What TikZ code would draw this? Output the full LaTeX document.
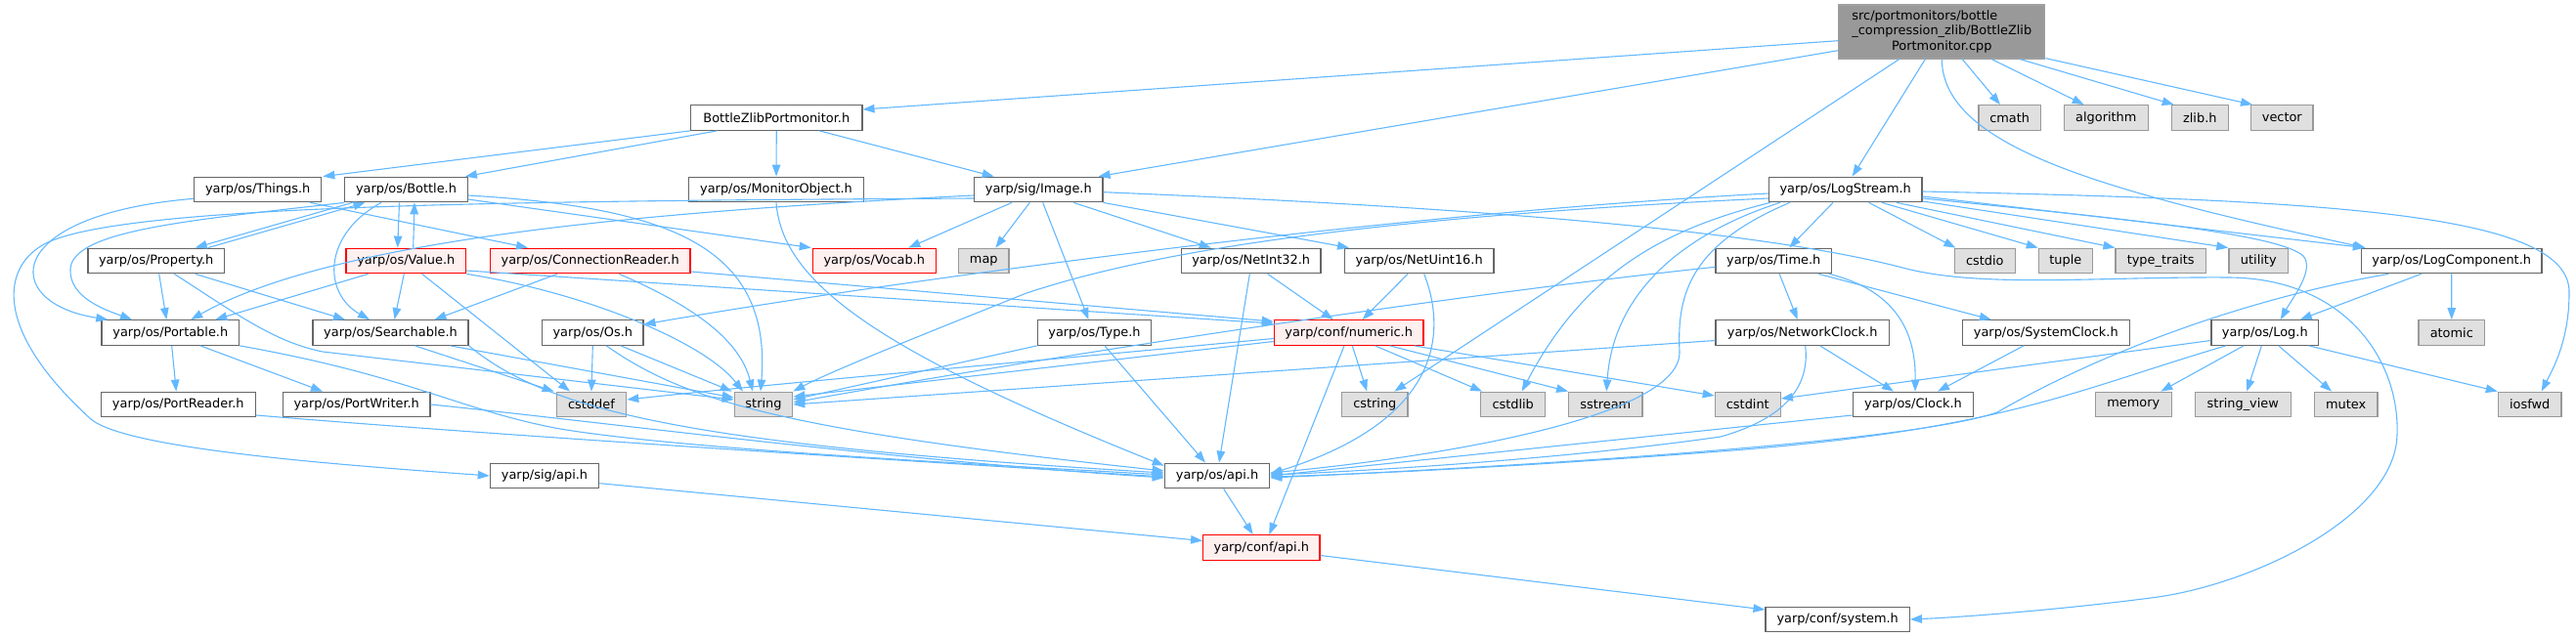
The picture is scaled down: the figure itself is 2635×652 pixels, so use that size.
\documentclass[tikz,border=0pt]{standalone}
\usepackage{fontspec}
\setmainfont{DejaVu Sans}
\usetikzlibrary{arrows.meta}
\definecolor{cgray}{HTML}{666666}
\definecolor{cext}{HTML}{999999}
\definecolor{cextfill}{HTML}{E0E0E0}
\definecolor{cred}{HTML}{FF0000}
\definecolor{credfill}{HTML}{FFF0F0}
\definecolor{croot}{HTML}{A0A0A0}
\definecolor{crootfill}{HTML}{999999}
\definecolor{cedge}{HTML}{63B8FF}
\tikzset{
 nd/.style={draw=cgray, fill=white, line width=1.2pt, minimum height=25.6pt, inner sep=0pt, font=\fontsize{12.9}{15.5}\selectfont, text=black},
 ext/.style={nd, draw=cext, fill=cextfill},
 redn/.style={nd, draw=cred, fill=credfill},
 rootn/.style={nd, draw=croot, fill=crootfill, minimum height=55pt},
 edge/.style={draw=cedge, line width=1.1pt, -{Triangle[length=12pt,width=8.5pt]}},
}
\begin{document}
\begin{tikzpicture}[x=1pt,y=-1pt]
\useasboundingbox (0,0) rectangle (2635,652);
% row 0
\node[rootn, minimum width=211pt] (root) at (1986.3,32.5) {\begin{tabular}{@{}l@{}}src/portmonitors/bottle\\\_compression\_zlib/BottleZlib\\\multicolumn{1}{@{}c@{}}{Portmonitor.cpp}\end{tabular}};
% row 1
\node[nd, minimum width=175.3pt] (bzp) at (794.3,120.5) {BottleZlibPortmonitor.h};
\node[ext, minimum width=63.3pt] (cmath) at (2055.7,120.5) {cmath};
\node[ext, minimum width=86pt] (algorithm) at (2154.3,120.5) {algorithm};
\node[ext, minimum width=58pt] (zlib) at (2250.3,120.5) {zlib.h};
\node[ext, minimum width=63.3pt] (vector) at (2334.3,120.5) {vector};
% row 2
\node[nd, minimum width=130pt] (things) at (263.7,194) {yarp/os/Things.h};
\node[nd, minimum width=125.6pt] (bottle) at (415.5,194) {yarp/os/Bottle.h};
\node[nd, minimum width=178.6pt] (monitor) at (794,194) {yarp/os/MonitorObject.h};
\node[nd, minimum width=131.3pt] (image) at (1062.3,194) {yarp/sig/Image.h};
\node[nd, minimum width=156.7pt] (logstream) at (1887.7,194) {yarp/os/LogStream.h};
% row 3
\node[nd, minimum width=139.3pt] (property) at (159.7,267) {yarp/os/Property.h};
\node[redn, minimum width=122.7pt] (value) at (415.3,267) {yarp/os/Value.h};
\node[redn, minimum width=204.7pt] (connreader) at (603.7,267) {yarp/os/ConnectionReader.h};
\node[redn, minimum width=126pt] (vocab) at (894.3,267) {yarp/os/Vocab.h};
\node[ext, minimum width=51.3pt] (map) at (1006.3,267) {map};
\node[nd, minimum width=142.7pt] (netint32) at (1279.7,267) {yarp/os/NetInt32.h};
\node[nd, minimum width=152.7pt] (netuint16) at (1451.7,267) {yarp/os/NetUint16.h};
\node[nd, minimum width=118.3pt] (time) at (1814.2,267) {yarp/os/Time.h};
\node[ext, minimum width=62pt] (cstdio) at (2030.3,267) {cstdio};
\node[ext, minimum width=55pt] (tuple) at (2112.8,267) {tuple};
\node[ext, minimum width=92.3pt] (typetraits) at (2210.2,267) {type\_traits};
\node[ext, minimum width=60.7pt] (utility) at (2310.3,267) {utility};
\node[nd, minimum width=184.7pt] (logcomp) at (2507.7,267) {yarp/os/LogComponent.h};
% row 4
\node[nd, minimum width=140.7pt] (portable) at (174.3,340.5) {yarp/os/Portable.h};
\node[nd, minimum width=159pt] (searchable) at (399.5,340.5) {yarp/os/Searchable.h};
\node[nd, minimum width=103.3pt] (os) at (606.3,340.5) {yarp/os/Os.h};
\node[nd, minimum width=116.4pt] (type) at (1119.5,340.5) {yarp/os/Type.h};
\node[redn, minimum width=152.7pt] (numeric) at (1379.7,340.5) {yarp/conf/numeric.h};
\node[nd, minimum width=177.3pt] (netclock) at (1843.7,340.5) {yarp/os/NetworkClock.h};
\node[nd, minimum width=171pt] (sysclock) at (2092.8,340.5) {yarp/os/SystemClock.h};
\node[nd, minimum width=109.7pt] (log) at (2316.8,340.5) {yarp/os/Log.h};
\node[ext, minimum width=67.7pt] (atomic) at (2507.8,340.5) {atomic};
% row 5
\node[nd, minimum width=158pt] (portreader) at (182.3,414) {yarp/os/PortReader.h};
\node[nd, minimum width=150.7pt] (portwriter) at (364.7,414) {yarp/os/PortWriter.h};
\node[ext, minimum width=71.4pt] (cstddef) at (605,414) {cstddef};
\node[ext, minimum width=59.4pt] (string) at (781,414) {string};
\node[ext, minimum width=67.3pt] (cstring) at (1406.3,414) {cstring};
\node[ext, minimum width=66pt] (cstdlib) at (1547.7,414) {cstdlib};
\node[ext, minimum width=75.3pt] (sstream) at (1642.3,414) {sstream};
\node[ext, minimum width=67pt] (cstdint) at (1787.8,414) {cstdint};
\node[nd, minimum width=123.4pt] (clock) at (1957,414) {yarp/os/Clock.h};
\node[ext, minimum width=78pt] (memory) at (2182.3,414) {memory};
\node[ext, minimum width=98pt] (stringview) at (2294.3,414) {string\_view};
\node[ext, minimum width=64.7pt] (mutex) at (2399.7,414) {mutex};
\node[ext, minimum width=64.7pt] (iosfwd) at (2587.7,414) {iosfwd};
% row 6-8
\node[nd, minimum width=111.4pt] (sigapi) at (557,487) {yarp/sig/api.h};
\node[nd, minimum width=107.4pt] (osapi) at (1245,487) {yarp/os/api.h};
\node[redn, minimum width=119.3pt] (confapi) at (1290.3,560.5) {yarp/conf/api.h};
\node[nd, minimum width=147.3pt] (system) at (1879.7,634) {yarp/conf/system.h};

% ---- edges: root
\draw[edge] ([yshift=-9.2pt]root.west) -- ([yshift=8.5pt]bzp.east);
\draw[edge] ([yshift=-19.2pt]root.west) -- ([xshift=-5pt]image.north east);
\draw[edge] ([xshift=-17pt]root.south) -- ([xshift=7pt]logstream.north);
\draw[edge] ([xshift=21pt]root.south) -- ([xshift=-9.7pt]cmath.north);
\draw[edge] ([xshift=51pt]root.south) -- ([xshift=-22.6pt]algorithm.north);
\draw[edge] ([xshift=80pt]root.south) -- ([xshift=3pt]zlib.north west);
\draw[edge] ([yshift=1pt]root.south east) -- ([xshift=2pt]vector.north west);
\draw[edge] ([xshift=-43.6pt]root.south) -- ([xshift=20pt]cstring.north);
\draw[edge] (root.south) .. controls (1987,150) and (2150,195) .. ([xshift=5pt]logcomp.north west);
% bzp
\draw[edge] (bzp.south west) -- ([xshift=1pt]things.north east);
\draw[edge] ([xshift=-61pt]bzp.south) -- ([xshift=-3pt]bottle.north east);
\draw[edge] (bzp) -- (monitor);
\draw[edge] ([xshift=44pt]bzp.south) -- ([xshift=-45.6pt]image.north);
% things
\draw[edge] ([yshift=-9.3pt]things.west) .. controls (0,220) and (0,310) .. ([xshift=-64pt]portable.north);
\draw[edge] ([xshift=-12pt]things.south east) -- ([xshift=-63.7pt]connreader.north);
% bottle
\draw[edge] ([xshift=-55pt]bottle.south) -- ([xshift=40pt]property.north);
\draw[edge] ([xshift=53pt]property.north) -- ([xshift=-42pt]bottle.south);
\draw[edge] ([xshift=-7pt]bottle.south) -- ([xshift=-8.6pt]value.north);
\draw[edge] ([xshift=7.4pt]value.north) -- ([xshift=8.5pt]bottle.south);
\draw[edge] (bottle.south west) .. controls (200,225) and (75,235) .. (72,275) .. controls (70,305) and (110,318) .. ([xshift=-39.3pt]portable.north);
\draw[edge] ([xshift=-25.5pt]bottle.south) .. controls (330,240) and (330,300) .. ([xshift=-21.5pt]searchable.north);
\draw[edge] ([yshift=-6pt]bottle.east) .. controls (680,212) and (790,250) .. ([xshift=-3pt]string.north);
\draw[edge] ([yshift=-10pt]bottle.east) -- ([xshift=-1pt]vocab.north west);
% property
\draw[edge] ([xshift=3pt]property.south) -- ([xshift=-4pt]portable.north);
\draw[edge] ([xshift=40pt]property.south) -- ([xshift=-46.5pt]searchable.north);
\draw[edge] ([xshift=18.6pt]property.south) .. controls (240,320) and (280,350) .. (330,360) -- ([yshift=5pt]string.west);
% value
\draw[edge] ([xshift=-38.6pt]value.south) -- ([xshift=46pt]portable.north);
\draw[edge] ([xshift=-2pt]value.south) -- ([xshift=4pt]searchable.north);
\draw[edge] ([xshift=16.4pt]value.south) -- ([xshift=-22pt]cstddef.north);
\draw[edge] (value.south east) .. controls (600,300) and (720,350) .. ([xshift=-21pt]string.north);
\draw[edge] ([yshift=-10pt]value.east) -- ([yshift=-4pt]numeric.north west);
% connection reader
\draw[edge] ([xshift=-33.7pt]connreader.south) -- ([xshift=45pt]searchable.north);
\draw[edge] ([xshift=29.6pt]connreader.south) .. controls (690,305) and (755,340) .. ([xshift=-11pt]string.north);
\draw[edge] ([yshift=-11pt]connreader.east) -- ([yshift=-2pt]numeric.north west);
% image
\draw[edge] ([xshift=-27.3pt]image.south) -- ([xshift=35pt]vocab.north);
\draw[edge] ([xshift=-9pt]image.south) -- ([xshift=12pt]map.north);
\draw[edge] ([xshift=4.4pt]image.south) -- ([xshift=-6pt]type.north);
\draw[edge] ([xshift=36pt]image.south) -- ([xshift=-41pt]netint32.north);
\draw[edge] (image.south east) -- ([xshift=-71.7pt]netuint16.north);
\draw[edge] ([yshift=-2.7pt]image.east) .. controls (1500,212) and (1800,235) .. (1950,275) .. controls (2030,295) and (2150,283) .. (2280,284) .. controls (2400,285) and (2455,370) .. (2452,445) .. controls (2450,530) and (2300,600) .. (2200,612) .. controls (2100,625) and (2000,632) .. (system.east);
\draw[edge] ([yshift=-6pt]image.west) .. controls (700,215) and (350,240) .. ([xshift=21pt]portable.north);
\draw[edge] ([yshift=-9pt]image.west) .. controls (500,206) and (120,210) .. (45,250) .. controls (0,275) and (-5,340) .. (93,429) .. controls (130,460) and (350,476) .. (sigapi.west);
% netint / netuint / type / os
\draw[edge] ([xshift=17pt]netint32.south) -- ([xshift=-16pt]numeric.north);
\draw[edge] ([xshift=-1.4pt]netint32.south) -- ([xshift=2pt]osapi.north);
\draw[edge] ([xshift=-11.7pt]netuint16.south) -- ([xshift=14pt]numeric.north);
\draw[edge] ([xshift=5pt]netuint16.south) .. controls (1480,340) and (1475,430) .. ([yshift=2pt]osapi.east);
\draw[edge] (type.south west) -- ([yshift=5pt]string.east);
\draw[edge] ([xshift=10.5pt]type.south) -- ([xshift=-12pt]osapi.north);
\draw[edge] (os.south) -- (cstddef.north);
\draw[edge] ([xshift=28.7pt]os.south) -- ([xshift=-2pt]string.north west);
\draw[edge] ([xshift=14pt]os.south) .. controls (700,410) and (800,440) .. ([yshift=5pt]osapi.west);
% searchable / portable
\draw[edge] ([xshift=25pt]searchable.south) -- ([xshift=-2pt]cstddef.north west);
\draw[edge] ([xshift=-19pt]searchable.south east) -- ([yshift=7pt]string.west);
\draw[edge] (searchable.south east) .. controls (560,420) and (700,455) .. ([yshift=3pt]osapi.west);
\draw[edge] ([xshift=1.4pt]portable.south) -- ([xshift=-2pt]portreader.north);
\draw[edge] ([xshift=30.7pt]portable.south) -- ([xshift=-34.7pt]portwriter.north);
\draw[edge] (portable.south east) .. controls (420,385) and (470,420) .. (573,439) .. controls (700,460) and (1000,475) .. ([yshift=1pt]osapi.west);
\draw[edge] ([yshift=-11pt]portreader.east) .. controls (500,445) and (900,470) .. ([yshift=-1pt]osapi.west);
\draw[edge] (portwriter.east) .. controls (600,430) and (900,470) .. ([yshift=-2pt]osapi.west);
\draw[edge] (monitor.south) .. controls (800,290) and (900,360) .. ([yshift=-3pt]osapi.north west);
% logstream
\draw[edge] ([xshift=-12.7pt]logstream.south) -- ([xshift=16pt]time.north);
\draw[edge] ([xshift=24pt]logstream.south) -- ([xshift=-30pt]cstdio.north);
\draw[edge] ([xshift=37.3pt]logstream.south) -- (tuple.north west);
\draw[edge] ([xshift=52.3pt]logstream.south) -- (typetraits.north west);
\draw[edge] ([yshift=-12pt]logstream.east) -- (utility.north west);
\draw[edge] ([yshift=-7pt]logstream.east) -- ([xshift=4pt]logcomp.north west);
\draw[edge] ([yshift=-9pt]logstream.east) .. controls (2150,222) and (2330,238) .. (2356,262) .. controls (2368,276) and (2345,305) .. ([xshift=16pt]log.north);
\draw[edge] ([yshift=-2pt]logstream.east) .. controls (2400,205) and (2630,220) .. (2628,300) .. controls (2628,350) and (2610,380) .. ([xshift=12pt]iosfwd.north);
\draw[edge] ([yshift=-4pt]logstream.west) .. controls (1400,220) and (900,290) .. ([yshift=8.5pt]os.east);
\draw[edge] ([yshift=-9pt]logstream.west) .. controls (1450,220) and (1200,250) .. (1050,300) .. controls (950,340) and (850,380) .. (string.north east);
\draw[edge] ([xshift=2pt]logstream.south west) .. controls (1700,235) and (1620,280) .. ([xshift=9pt]cstdlib.north);
\draw[edge] ([xshift=-67pt]logstream.south) .. controls (1720,240) and (1650,300) .. ([xshift=1pt]sstream.north);
\draw[edge] ([xshift=-57pt]logstream.south) .. controls (1730,250) and (1715,300) .. (1718,360) .. controls (1720,430) and (1450,470) .. ([yshift=3pt]osapi.east);
% time / clocks
\draw[edge] ([xshift=6pt]time.south) -- ([xshift=-5pt]netclock.north);
\draw[edge] ([xshift=46pt]time.south) -- ([xshift=-56pt]sysclock.north);
\draw[edge] ([xshift=-3pt]time.south east) .. controls (1930,295) and (1960,330) .. ([xshift=2pt]clock.north);
\draw[edge] ([yshift=-6.3pt]time.west) .. controls (1500,300) and (1100,360) .. ([yshift=2pt]string.east);
\draw[edge] ([xshift=18pt]netclock.south) -- ([xshift=-20pt]clock.north);
\draw[edge] ([xshift=3pt]netclock.south) .. controls (1852,400) and (1820,430) .. (1760,447) .. controls (1600,470) and (1400,482) .. ([yshift=1pt]osapi.east);
\draw[edge] ([yshift=-8pt]netclock.west) -- (string.east);
\draw[edge] ([xshift=-22.8pt]sysclock.south) -- ([xshift=25pt]clock.north);
\draw[edge] ([yshift=-11pt]clock.west) -- (osapi.east);
% log / logcomponent
\draw[edge] ([yshift=-8pt]log.west) -- ([yshift=6pt]cstdint.east);
\draw[edge] ([xshift=-21.8pt]log.south) -- ([xshift=28pt]memory.north);
\draw[edge] ([xshift=-3.5pt]log.south) -- ([xshift=4pt]stringview.north);
\draw[edge] ([xshift=14pt]log.south) -- ([xshift=-14.7pt]mutex.north);
\draw[edge] ([xshift=45pt]log.south) -- (iosfwd.north west);
\draw[edge] ([xshift=-40pt]log.south) .. controls (2120,400) and (2050,440) .. (1760,462) .. controls (1550,478) and (1400,485) .. ([yshift=-1pt]osapi.east);
\draw[edge] (logcomp) -- (atomic);
\draw[edge] ([xshift=-31pt]logcomp.south) -- ([xshift=36pt]log.north);
\draw[edge] ([xshift=-64.4pt]logcomp.south) .. controls (2300,305) and (2150,360) .. (2043,422) .. controls (1950,455) and (1500,480) .. ([yshift=-2pt]osapi.east);
% numeric
\draw[edge] ([xshift=3.6pt]numeric.south) -- ([xshift=-8pt]cstring.north);
\draw[edge] ([xshift=27pt]numeric.south) -- ([xshift=2pt]cstdlib.north west);
\draw[edge] ([xshift=42pt]numeric.south) -- (sstream.north west);
\draw[edge] ([xshift=67pt]numeric.south) -- ([yshift=9pt]cstdint.west);
\draw[edge] ([xshift=-4.7pt]numeric.south) -- ([xshift=8pt]confapi.north);
\draw[edge] ([yshift=-9pt]numeric.west) -- ([yshift=8pt]string.east);
\draw[edge] ([yshift=-6pt]numeric.west) .. controls (1000,375) and (800,392) .. ([yshift=5pt]cstddef.east);
% apis
\draw[edge] ([xshift=6.7pt]osapi.south) -- ([xshift=-8.6pt]confapi.north);
\draw[edge] ([yshift=-7.7pt]sigapi.east) -- ([yshift=7pt]confapi.west);
\draw[edge] ([yshift=-8pt]confapi.east) -- ([yshift=10pt]system.west);
\end{tikzpicture}
\end{document}
